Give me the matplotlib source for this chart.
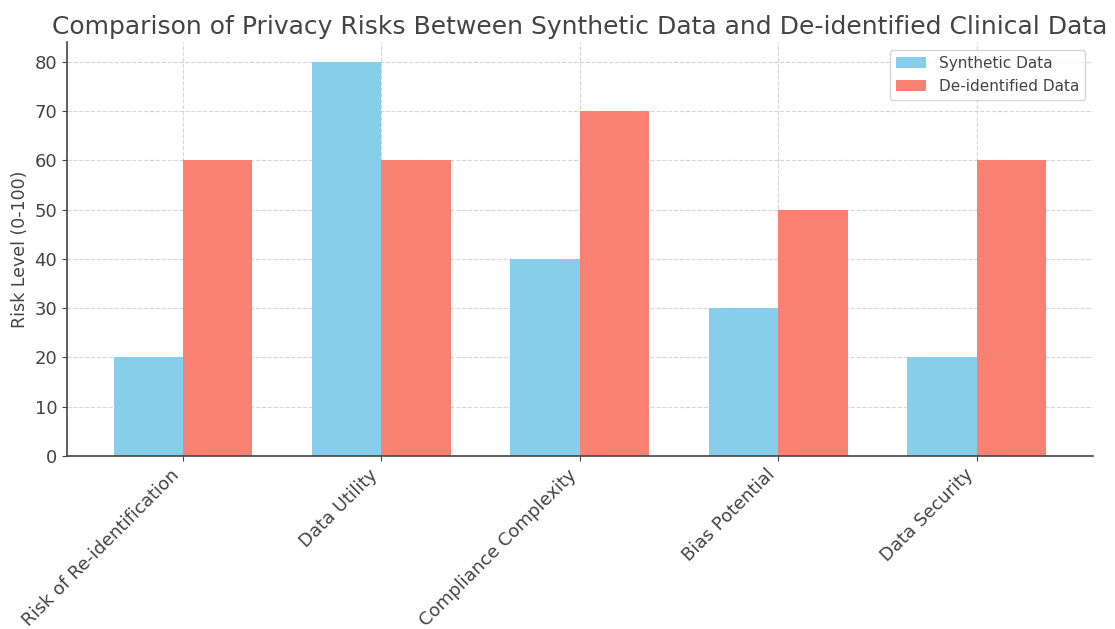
import matplotlib
matplotlib.use('Agg')
import matplotlib.pyplot as plt
import numpy as np

categories = ["Risk of Re-identification", "Data Utility", "Compliance Complexity",
              "Bias Potential", "Data Security"]
synthetic = [20, 80, 40, 30, 20]
deidentified = [60, 60, 70, 50, 60]

plt.rcParams.update({'text.color': '#444444', 'axes.labelcolor': '#444444',
                     'xtick.color': '#444444', 'ytick.color': '#444444',
                     'axes.edgecolor': '#444444'})

fig, ax = plt.subplots(figsize=(11.15, 6.29), dpi=100)
x = np.arange(len(categories))
w = 0.35
ax.bar(x - w/2, synthetic, w, color='skyblue', label='Synthetic Data', zorder=2)
ax.bar(x + w/2, deidentified, w, color='salmon', label='De-identified Data', zorder=2)

ax.set_title("Comparison of Privacy Risks Between Synthetic Data and De-identified Clinical Data",
             fontsize=18)
ax.set_ylabel("Risk Level (0-100)", fontsize=12.5)
ax.set_xticks(x)
ax.set_xticklabels(categories, rotation=45, ha='right', fontsize=13)
ax.tick_params(axis='y', labelsize=13)
ax.grid(True, linestyle='--', color='#cccccc', linewidth=0.8, alpha=0.8, zorder=0)
ax.spines['top'].set_visible(False)
ax.spines['right'].set_visible(False)
ax.spines['left'].set_linewidth(1.2)
ax.spines['bottom'].set_linewidth(1.2)
ax.legend(loc='upper right', fontsize=11)

fig.subplots_adjust(left=0.06, right=0.98, top=0.933, bottom=0.275)
plt.savefig("out.png")
